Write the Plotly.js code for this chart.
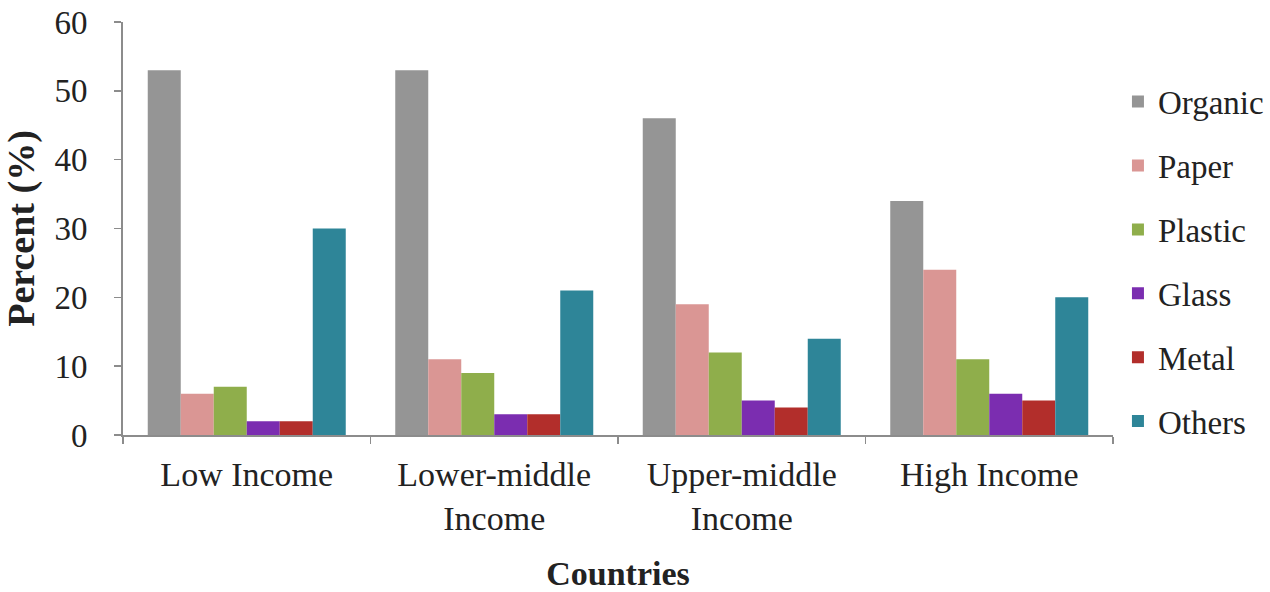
<!DOCTYPE html>
<html>
<head>
<meta charset="utf-8">
<script src="https://cdn.plot.ly/plotly-3.0.1.min.js"></script>
<style>html,body{margin:0;padding:0;background:#fff;}#chart{width:1270px;height:592px;}</style>
</head>
<body>
<div id="chart"></div>
<script>
const categories = ["Low Income", "Lower-middle<br>Income", "Upper-middle<br>Income", "High Income"];
const organic = [53, 53, 46, 34];
const paper   = [6, 11, 19, 24];
const plastic = [7, 9, 12, 11];
const glass   = [2, 3, 5, 6];
const metal   = [2, 3, 4, 5];
const others  = [30, 21, 14, 20];
const seriesNames = ["Organic", "Paper", "Plastic", "Glass", "Metal", "Others"];
const seriesColors = ["#959595", "#DA9694", "#8FAE4B", "#7B2DB0", "#B22E2B", "#2E8598"];
const seriesValues = [organic, paper, plastic, glass, metal, others];

const traces = seriesNames.map((n, i) => ({
  type: "bar",
  name: n,
  x: categories,
  y: seriesValues[i],
  marker: {color: seriesColors[i], line: {width: 0}},
  legendgroup: n,
  hoverinfo: "y+name"
}));

const font = "Liberation Serif";
const layout = {
  width: 1270, height: 592,
  paper_bgcolor: "#fff", plot_bgcolor: "#fff",
  margin: {l: 123, r: 157, t: 22, b: 157, autoexpand: false},
  barmode: "group", bargap: 0.2, bargroupgap: 0,
  font: {family: font, color: "#222", size: 30},
  showlegend: true,
  legend: {
    x: 1.005, xanchor: "left", y: 0.875, yanchor: "top",
    font: {family: font, size: 33, color: "#222"},
    traceorder: "grouped", tracegroupgap: 18,
    itemwidth: 30, bgcolor: "rgba(0,0,0,0)"
  },
  xaxis: {
    type: "category",
    showline: true, linecolor: "#8c8c8c", linewidth: 2,
    ticks: "outside", tickson: "boundaries", ticklen: 7, tickcolor: "#8c8c8c", tickwidth: 1.5,
    tickfont: {family: font, size: 34, color: "#222"},
    ticklabelstandoff: 8,
    showgrid: false, zeroline: false,
    title: {text: "<b>Countries</b>", font: {family: font, size: 34, color: "#222"}, standoff: 28}
  },
  yaxis: {
    range: [0, 60], dtick: 10,
    showline: true, linecolor: "#8c8c8c", linewidth: 2,
    ticks: "outside", ticklen: 7, tickcolor: "#8c8c8c", tickwidth: 1.5,
    tickfont: {family: font, size: 33, color: "#222"},
    ticklabelstandoff: 20,
    showgrid: false, zeroline: false,
    title: {text: "<b>Percent (%)</b>", font: {family: font, size: 38, color: "#222"}, standoff: 8}
  }
};

Plotly.newPlot("chart", traces, layout, {displayModeBar: false, staticPlot: true});
</script>
</body>
</html>
